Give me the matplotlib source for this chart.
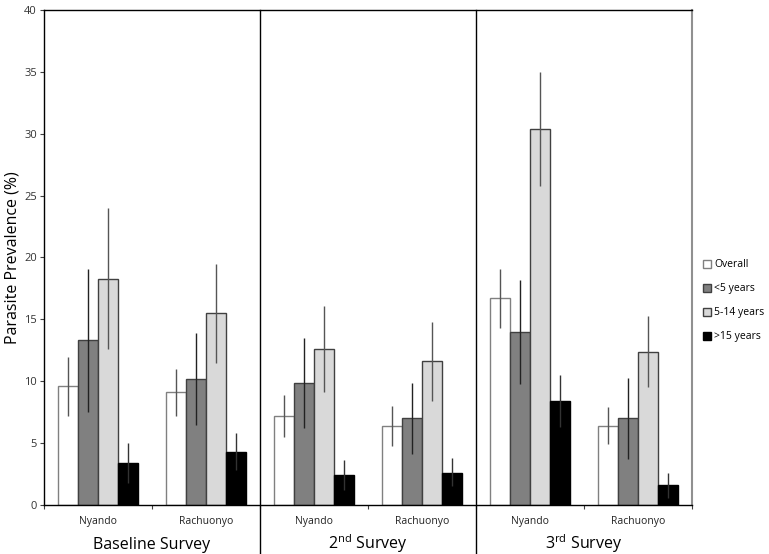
import numpy as np
import matplotlib
matplotlib.use("Agg")
import matplotlib.pyplot as plt

plt.rcParams['font.family'] = ['Open Sans', 'DejaVu Sans']

# category order: Baseline Nyando, Baseline Rachuonyo, 2nd Nyando, 2nd Rachuonyo, 3rd Nyando, 3rd Rachuonyo
sites = ["Nyando", "Rachuonyo", "Nyando", "Rachuonyo", "Nyando", "Rachuonyo"]
surveys = ["Baseline Survey", "2$^{\\mathregular{nd}}$ Survey", "3$^{\\mathregular{rd}}$ Survey"]
groups = ["Overall", "<5 years", "5-14 years", ">15 years"]

overall = [9.6, 9.1, 7.2, 6.4, 16.7, 6.4]
overall_lo = [7.2, 7.2, 5.5, 4.8, 14.3, 4.9]
overall_hi = [12.0, 11.0, 8.9, 8.0, 19.1, 7.9]

under5 = [13.3, 10.2, 9.9, 7.0, 14.0, 7.0]
under5_lo = [7.5, 6.5, 6.2, 4.1, 9.8, 3.7]
under5_hi = [19.1, 13.9, 13.5, 9.9, 18.2, 10.3]

age5_14 = [18.3, 15.5, 12.6, 11.6, 30.4, 12.4]
age5_14_lo = [12.6, 11.5, 9.1, 8.4, 25.8, 9.5]
age5_14_hi = [24.0, 19.5, 16.1, 14.8, 35.0, 15.3]

over15 = [3.4, 4.3, 2.4, 2.6, 8.4, 1.6]
over15_lo = [1.8, 2.8, 1.2, 1.5, 6.3, 0.6]
over15_hi = [5.0, 5.8, 3.6, 3.8, 10.5, 2.6]

series = [
    (overall, overall_lo, overall_hi, "white", "#808080", "#555555"),
    (under5, under5_lo, under5_hi, "#808080", "#404040", "#222222"),
    (age5_14, age5_14_lo, age5_14_hi, "#d9d9d9", "#404040", "#555555"),
    (over15, over15_lo, over15_hi, "black", "black", "#333333"),
]

fig = plt.figure(figsize=(7.69, 5.54), dpi=100)
ax = fig.add_axes([0.0572, 0.0884, 0.8427, 0.8936])

x = np.arange(len(sites)) + 0.5
w = 0.183
for i, (vals, lo, hi, fc, ec, errc) in enumerate(series):
    pos = x + (i - 1.5) * w
    vals = np.array(vals)
    yerr = [vals - np.array(lo), np.array(hi) - vals]
    ax.bar(pos, vals, w, color=fc, edgecolor=ec, linewidth=1.0,
           label=groups[i], zorder=2)
    ax.errorbar(pos, vals, yerr=yerr, fmt='none', ecolor=errc,
                elinewidth=1.0, capsize=0, zorder=3)

ax.set_xlim(0, 6)
ax.set_ylim(0, 40)
ax.set_yticks(np.arange(0, 41, 5))
ax.tick_params(axis='y', labelsize=8, length=3, pad=2, colors='#404040', labelcolor='#333333')
ax.set_xticks(np.arange(0, 7))
ax.set_xticklabels([])
ax.tick_params(axis='x', length=3, colors='#404040')
ax.set_ylabel("Parasite Prevalence (%)", fontsize=11.5)
ax.yaxis.set_label_coords(-0.036, 0.5)

for s in ['left', 'bottom', 'top']:
    ax.spines[s].set_color('black')
    ax.spines[s].set_linewidth(1.0)
ax.spines['right'].set_color('#909090')
ax.spines['right'].set_linewidth(1.5)

# survey dividers running down to the figure edge
for xv in [2, 4]:
    ax.axvline(xv, ymin=-0.1, ymax=1, color='black', linewidth=1.0, clip_on=False, zorder=4)

for xi, name in zip(x, sites):
    ax.text(xi, -1.3, name, ha='center', va='center', fontsize=7.5, color='#222222')
for k, name in enumerate(surveys):
    ax.text(2 * k + 1, -3.55, name, ha='center', va='baseline', fontsize=11.5)

leg = ax.legend(loc='upper left', bbox_to_anchor=(1.01, 0.505), frameon=False,
                fontsize=7.5, handlelength=0.8, handleheight=0.8, handletextpad=0.3,
                labelspacing=1.25, borderaxespad=0)

fig.savefig("out.png", dpi=100)
